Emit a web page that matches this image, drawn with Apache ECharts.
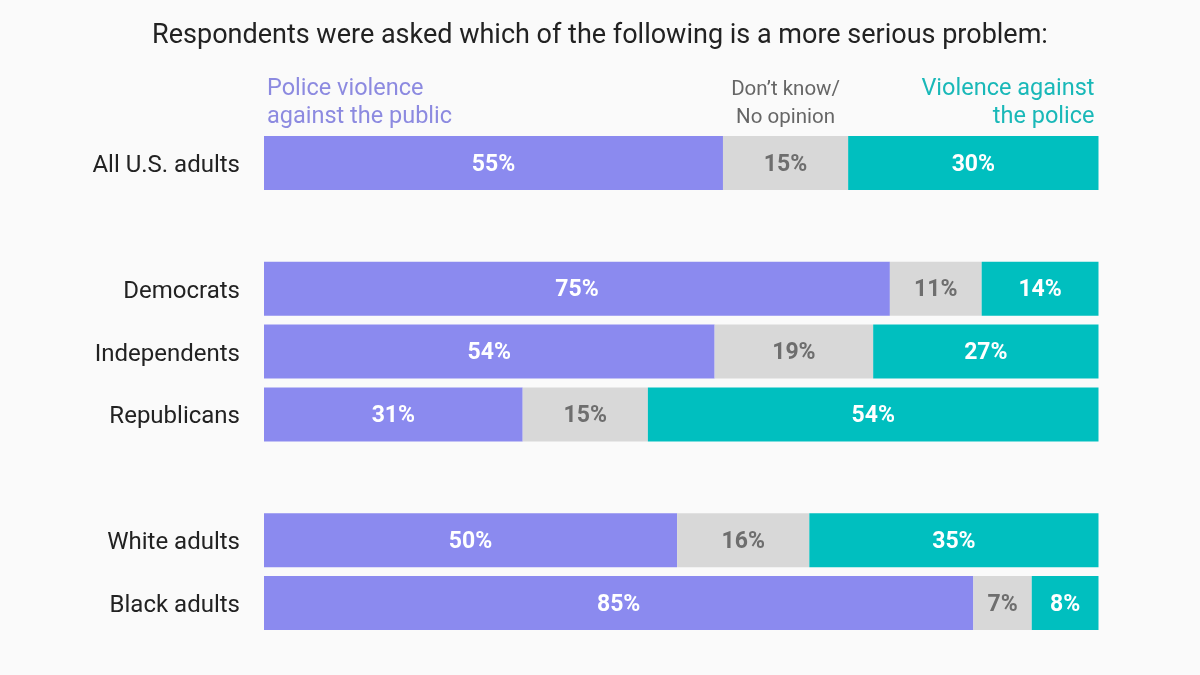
<!DOCTYPE html>
<html>
<head>
<meta charset="utf-8">
<script src="https://cdn.jsdelivr.net/npm/echarts@6/dist/echarts.min.js"></script>
<style>
html,body{margin:0;padding:0;background:#fafafa;}
#c{width:1200px;height:675px;}
</style>
</head>
<body>
<div id="c"></div>
<script>
const categories = ['All U.S. adults', '', 'Democrats', 'Independents', 'Republicans', '', 'White adults', 'Black adults'];
const policeViolence = [55, null, 75, 54, 31, null, 50, 85];
const dontKnow = [15, null, 11, 19, 15, null, 16, 7];
const violenceAgainstPolice = [30, null, 14, 27, 54, null, 35, 8];
const seriesNames = ['Police violence\nagainst the public', 'Don\u2019t know/\nNo opinion', 'Violence against\nthe police'];
const titleText = 'Respondents were asked which of the following is a more serious problem:';

const raw = [policeViolence, dontKnow, violenceAgainstPolice];
const totals = categories.map((c, i) => raw.reduce((s, a) => s + (a[i] || 0), 0));
const colors = ['#8b8aef', '#d8d8d8', '#00bfbf'];
const labelColors = ['#ffffff', '#6e6e6e', '#ffffff'];

const chart = echarts.init(document.getElementById('c'));
const series = raw.map((arr, k) => ({
  name: seriesNames[k],
  type: 'bar',
  stack: 'total',
  barWidth: 54,
  itemStyle: { color: colors[k] },
  label: {
    show: true,
    position: 'inside',
    offset: [0, 2],
    color: labelColors[k],
    fontFamily: 'Roboto',
    fontWeight: 'bold',
    fontSize: 23,
    formatter: p => raw[k][p.dataIndex] + '%'
  },
  data: arr.map((v, i) => v == null ? null : { value: v / totals[i] * 100 })
}));

chart.setOption({
  backgroundColor: '#fafafa',
  animation: false,
  title: {
    text: titleText,
    left: 'center',
    top: 18,
    textStyle: { fontFamily: 'Roboto', fontWeight: 'normal', fontSize: 27, color: '#222222' }
  },
  grid: { left: 264, right: 101.5, top: 131.5, bottom: 40.5, containLabel: false },
  xAxis: { type: 'value', min: 0, max: 100, show: false },
  yAxis: {
    type: 'category',
    inverse: true,
    data: categories,
    axisLine: { show: false },
    axisTick: { show: false },
    axisLabel: {
      margin: 24,
      formatter: v => v ? '{a|' + v + '}' : '',
      rich: { a: { fontFamily: 'Roboto', fontSize: 24, color: '#222222', padding: [6, 0, 0, 0] } }
    }
  },
  series: series
});

// header labels positioned from the first row's segments
const y0 = chart.convertToPixel({ yAxisIndex: 0 }, 0);
const xStart = chart.convertToPixel({ xAxisIndex: 0 }, 0);
const xEnd = chart.convertToPixel({ xAxisIndex: 0 }, 100);
const g1a = chart.convertToPixel({ xAxisIndex: 0 }, policeViolence[0] / totals[0] * 100);
const g1b = chart.convertToPixel({ xAxisIndex: 0 }, (policeViolence[0] + dontKnow[0]) / totals[0] * 100);
const hy = y0 - 27 - 10 - 56 + 5;
chart.setOption({
  graphic: [
    { type: 'text', x: xStart + 3, y: hy,
      style: { text: seriesNames[0], fill: '#8c8ae0', align: 'left', fontFamily: 'Roboto', fontSize: 23.5, lineHeight: 28 } },
    { type: 'text', x: (g1a + g1b) / 2, y: hy + 1,
      style: { text: seriesNames[1], fill: '#666666', align: 'center', fontFamily: 'Roboto', fontSize: 20.5, lineHeight: 28 } },
    { type: 'text', x: xEnd - 4, y: hy,
      style: { text: seriesNames[2], fill: '#19b8b8', align: 'right', fontFamily: 'Roboto', fontSize: 23.5, lineHeight: 28 } }
  ]
});
</script>
</body>
</html>
